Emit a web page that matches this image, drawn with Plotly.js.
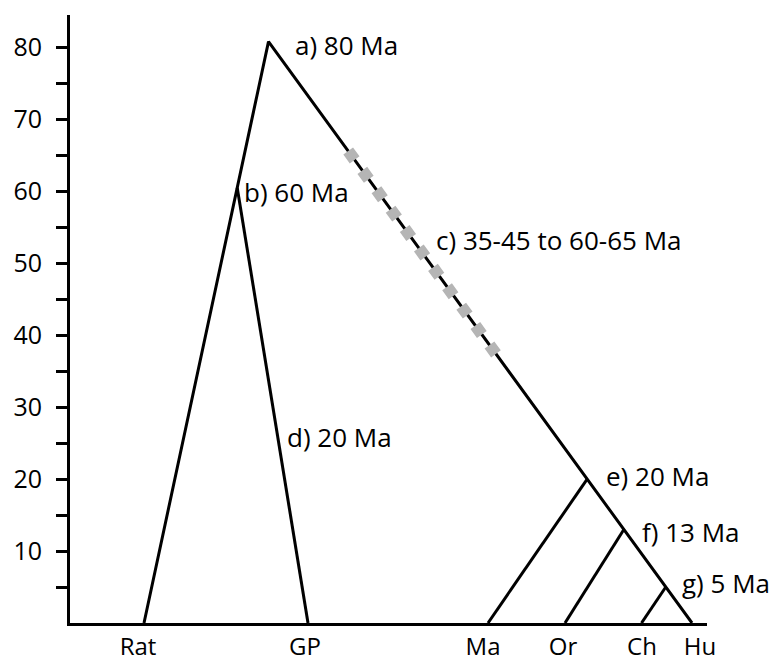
<!DOCTYPE html>
<html><head><meta charset="utf-8">
<script src="https://cdn.plot.ly/plotly-3.0.1.min.js"></script>
<style>html,body{margin:0;padding:0;background:#fff}#chart{width:777px;height:662px}</style>
</head><body><div id="chart"></div>
<script>
// ---- data ----
const taxa = ['Rat', 'GP', 'Ma', 'Or', 'Ch', 'Hu'];
const taxonPos = [144, 308, 488, 565, 641.5, 692];   // position of each taxon along the x axis
const taxonLabelPos = [138, 305, 483, 563, 642, 700]; // where each taxon name is written
const rootAge = 80.8;                                // a) root divergence (Ma)
const rootPos = 268.5;
const rodentSplitAge = 60.5;                          // b) Rat / GP
const primateSplitAges = [20, 13, 5];                 // e) Ma, f) Or, g) Ch splits from the Hu lineage
const primateSplitTaxa = ['Ma', 'Or', 'Ch'];
const cInterval = [65.6, 37.4];                       // c) uncertain interval on the primate stem
const nodeLabels = ['a) 80 Ma', 'b) 60 Ma', 'c) 35-45 to 60-65 Ma', 'd) 20 Ma', 'e) 20 Ma', 'f) 13 Ma', 'g) 5 Ma'];
const yTickVals = [5, 10, 15, 20, 25, 30, 35, 40, 45, 50, 55, 60, 65, 70, 75, 80];
const yTickText = ['', '10', '', '20', '', '30', '', '40', '', '50', '', '60', '', '70', '', '80'];

// ---- geometry helpers ----
const pos = t => taxonPos[taxa.indexOf(t)];
const onLeft = age => pos('Rat') + (rootPos - pos('Rat')) * age / rootAge;
const onRight = age => pos('Hu') + (rootPos - pos('Hu')) * age / rootAge;

const outer = {
  x: [pos('Rat'), rootPos, pos('Hu')],
  y: [0, rootAge, 0],
  mode: 'lines', line: {color: '#000', width: 3}, hoverinfo: 'skip'
};
const bx = [onLeft(rodentSplitAge), pos('GP'), null];
const by = [rodentSplitAge, 0, null];
primateSplitAges.forEach((a, i) => {
  bx.push(onRight(a), pos(primateSplitTaxa[i]), null);
  by.push(a, 0, null);
});
const branches = {x: bx, y: by, mode: 'lines', line: {color: '#000', width: 3}, hoverinfo: 'skip', connectgaps: false};
const grey = {
  x: cInterval.map(onRight), y: cInterval,
  mode: 'lines', line: {color: '#b5b5b5', width: 12, dash: '11px,13px'}, hoverinfo: 'skip'
};

const F = '"Open Sans", "Noto Sans", sans-serif';
const labelPos = [[293, 80.3], [242, 59.9], [434, 53.2], [285, 25.85], [604, 20.4], [640, 12.65], [680, 5.56]];
const annotations = nodeLabels.map((t, i) => ({
  text: t, x: labelPos[i][0], y: labelPos[i][1], xref: 'x', yref: 'y',
  xanchor: 'left', yanchor: 'middle', showarrow: false,
  font: {family: F, size: 26, color: '#000'}
}));

const layout = {
  width: 777, height: 662,
  margin: {l: 70, r: 70, t: 15, b: 39},
  paper_bgcolor: '#fff', plot_bgcolor: '#fff',
  showlegend: false,
  font: {family: F, color: '#000'},
  xaxis: {
    range: [70, 707], showline: true, linewidth: 3, linecolor: '#000',
    tickvals: taxonLabelPos, ticktext: taxa, ticks: '', showgrid: false, zeroline: false,
    tickfont: {family: F, size: 24, color: '#000'}, ticklabelstandoff: 0
  },
  yaxis: {
    range: [0, 84.5], showline: true, linewidth: 3, linecolor: '#000',
    tickvals: yTickVals, ticktext: yTickText, ticks: 'outside', ticklen: 11, tickwidth: 3, tickcolor: '#000',
    showgrid: false, zeroline: false,
    tickfont: {family: F, size: 25, color: '#000'}, ticklabelstandoff: 9
  },
  annotations: annotations
};

Plotly.newPlot('chart', [outer, branches, grey], layout, {staticPlot: true, displayModeBar: false});
</script>
</body></html>
